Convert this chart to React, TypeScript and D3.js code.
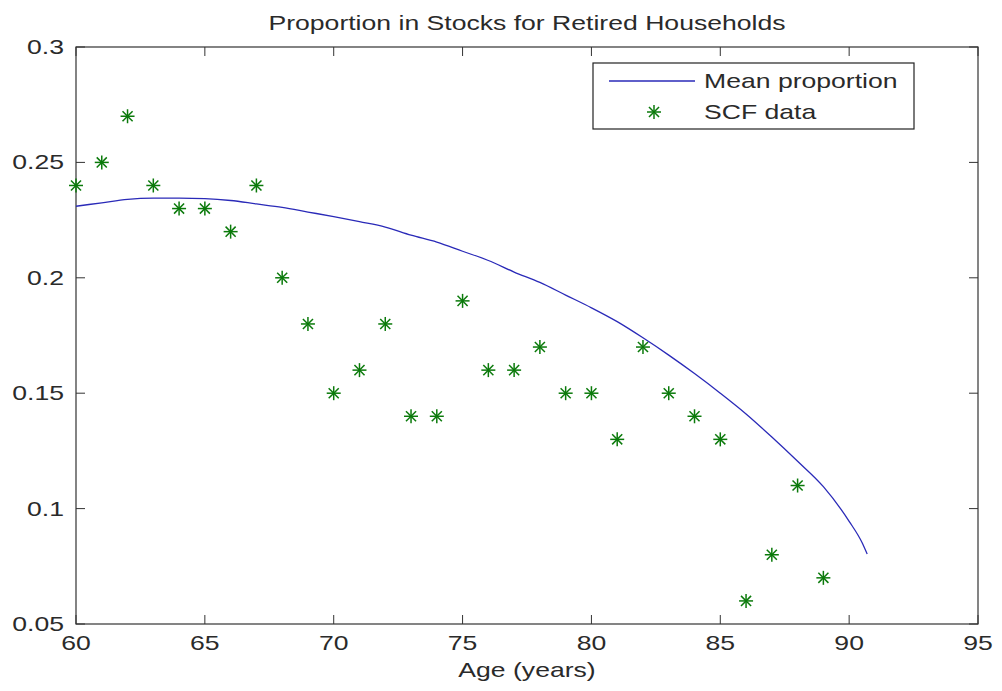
import React from "react";
import * as d3 from "d3";

const scfAges = [60,61,62,63,64,65,66,67,68,69,70,71,72,73,74,75,76,77,78,79,80,81,82,83,84,85,86,87,88,89];
const scfValues = [0.24,0.25,0.27,0.24,0.23,0.23,0.22,0.24,0.20,0.18,0.15,0.16,0.18,0.14,0.14,0.19,0.16,0.16,0.17,0.15,0.15,0.13,0.17,0.15,0.14,0.13,0.06,0.08,0.11,0.07];

const meanAges = [60,61,62,63,64,65,66,67,68,69,70,71,72,73,74,75,76,77,78,79,80,81,82,83,84,85,86,87,88,89,90,90.5,90.7];
const meanValues = [0.231,0.2325,0.234,0.2345,0.2345,0.2343,0.2335,0.232,0.2305,0.2285,0.2265,0.2243,0.222,0.2185,0.2155,0.2115,0.2075,0.2025,0.198,0.1925,0.187,0.181,0.174,0.1665,0.1585,0.150,0.141,0.131,0.1205,0.1095,0.0945,0.0853,0.0803];

const xTicks = [60,65,70,75,80,85,90,95];
const yTicks = [0.05,0.1,0.15,0.2,0.25,0.3];
const yTickLabels = ["0.05","0.1","0.15","0.2","0.25","0.3"];

const titleText = "Proportion in Stocks for Retired Households";
const xLabelText = "Age (years)";
const legendLabels = ["Mean proportion", "SCF data"];

const W = 1002, H = 691;
const L = 76, R = 978, T = 47, B = 624;
const SX = 1.33;
const FONT = "'Liberation Sans', Arial, sans-serif";
const BLUE = "#2a2ab8";
const GREEN = "#0b7a0b";
const AX = "#333";

function Star({ x, y, r = 7 }: { x: number; y: number; r?: number }) {
  const d = r * 0.72;
  return (
    <g stroke={GREEN} strokeWidth={1.5}>
      <line x1={x - r} y1={y} x2={x + r} y2={y} />
      <line x1={x} y1={y - r} x2={x} y2={y + r} />
      <line x1={x - d} y1={y - d} x2={x + d} y2={y + d} />
      <line x1={x - d} y1={y + d} x2={x + d} y2={y - d} />
    </g>
  );
}

function T2({ x, y, anchor = "start", children, size = 20 }: any) {
  return (
    <text transform={`translate(${x},${y}) scale(${SX},1)`} textAnchor={anchor}
      fontFamily={FONT} fontSize={size} fill="#2a2a2a">{children}</text>
  );
}

export default function App() {
  const x = d3.scaleLinear().domain([60, 95]).range([L, R]);
  const y = d3.scaleLinear().domain([0.05, 0.3]).range([B, T]);
  const line = d3.line<number>()
    .x((_, i) => x(meanAges[i]))
    .y((v) => y(v))
    .curve(d3.curveMonotoneX);
  const tl = 9;
  return (
    <svg width={W} height={H} style={{ position: "absolute", left: 0, top: 0, background: "#fff" }}>
      <rect x={0} y={0} width={W} height={H} fill="#fff" />
      <T2 x={(L + R) / 2} y={30} anchor="middle">{titleText}</T2>
      {xTicks.map((t) => (
        <g key={"x" + t} stroke={AX} strokeWidth={1}>
          <line x1={x(t)} x2={x(t)} y1={B} y2={B - tl} />
          <line x1={x(t)} x2={x(t)} y1={T} y2={T + tl} />
        </g>
      ))}
      {yTicks.map((t) => (
        <g key={"y" + t} stroke={AX} strokeWidth={1}>
          <line x1={L} x2={L + tl} y1={y(t)} y2={y(t)} />
          <line x1={R} x2={R - tl} y1={y(t)} y2={y(t)} />
        </g>
      ))}
      <rect x={L} y={T} width={R - L} height={B - T} fill="none" stroke={AX} strokeWidth={1.2} />
      {xTicks.map((t) => (
        <T2 key={"xl" + t} x={x(t)} y={650} anchor="middle">{t}</T2>
      ))}
      {yTicks.map((t, i) => (
        <T2 key={"yl" + t} x={L - 12} y={y(t) + 7} anchor="end">{yTickLabels[i]}</T2>
      ))}
      <T2 x={(L + R) / 2} y={677} anchor="middle">{xLabelText}</T2>
      <path d={line(meanValues) || ""} fill="none" stroke={BLUE} strokeWidth={1.3} />
      {scfAges.map((a, i) => (
        <Star key={"s" + a} x={x(a)} y={y(scfValues[i])} />
      ))}
      <rect x={593} y={63} width={321} height={66} fill="#fff" stroke="#222" strokeWidth={1.2} />
      <line x1={609} x2={695} y1={81} y2={81} stroke={BLUE} strokeWidth={1.3} />
      <T2 x={704} y={88}>{legendLabels[0]}</T2>
      <Star x={654} y={112} />
      <T2 x={704} y={119}>{legendLabels[1]}</T2>
    </svg>
  );
}
